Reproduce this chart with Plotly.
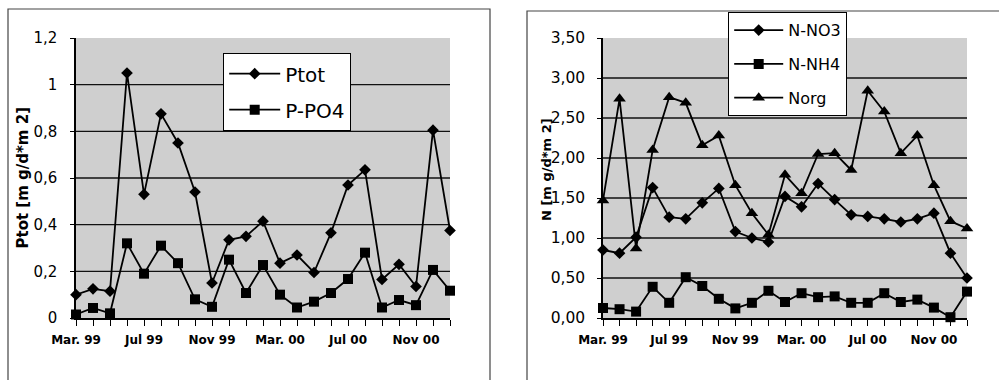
import plotly.graph_objects as go

# ---------------- data ----------------
months = ["Mar 99", "Apr 99", "May 99", "Jun 99", "Jul 99", "Aug 99", "Sep 99",
          "Oct 99", "Nov 99", "Dec 99", "Jan 00", "Feb 00", "Mar 00", "Apr 00",
          "May 00", "Jun 00", "Jul 00", "Aug 00", "Sep 00", "Oct 00", "Nov 00",
          "Dec 00", "Jan 01"]
label_months = ["Mar 99", "Jul 99", "Nov 99", "Mar 00", "Jul 00", "Nov 00"]
tick_labels = ["Mar. 99", "Jul 99", "Nov 99", "Mar. 00", "Jul 00", "Nov 00"]

ptot = [0.10, 0.125, 0.115, 1.05, 0.53, 0.875, 0.75, 0.54, 0.15, 0.335, 0.35,
        0.415, 0.235, 0.27, 0.195, 0.365, 0.57, 0.635, 0.165, 0.23, 0.135,
        0.805, 0.375]
p_po4 = [0.015, 0.043, 0.02, 0.32, 0.19, 0.31, 0.235, 0.08, 0.048, 0.25, 0.107,
         0.227, 0.10, 0.045, 0.07, 0.107, 0.167, 0.28, 0.045, 0.077, 0.055,
         0.206, 0.117]

n_no3 = [0.85, 0.81, 1.01, 1.63, 1.26, 1.24, 1.44, 1.62, 1.08, 1.00, 0.95, 1.52,
         1.39, 1.68, 1.48, 1.29, 1.27, 1.24, 1.20, 1.24, 1.31, 0.81, 0.50]
n_nh4 = [0.125, 0.11, 0.08, 0.39, 0.19, 0.51, 0.40, 0.24, 0.12, 0.19, 0.34, 0.20,
         0.31, 0.26, 0.27, 0.19, 0.19, 0.31, 0.20, 0.23, 0.13, 0.01, 0.33]
norg = [1.47, 2.74, 0.87, 2.10, 2.76, 2.69, 2.16, 2.28, 1.66, 1.31, 1.04, 1.79,
        1.56, 2.05, 2.06, 1.85, 2.84, 2.58, 2.06, 2.28, 1.66, 1.21, 1.12]

left_yticks = [0, 0.2, 0.4, 0.6, 0.8, 1.0, 1.2]
left_yticktext = ["0", "0,2", "0,4", "0,6", "0,8", "1", "1,2"]
right_yticks = [0, 0.5, 1.0, 1.5, 2.0, 2.5, 3.0, 3.5]
right_yticktext = ["0,00", "0,50", "1,00", "1,50", "2,00", "2,50", "3,00", "3,50"]

# ---------------- figure ----------------
W, H = 999, 380
FONT = "DejaVu Sans"
BG = "#cfcfcf"

xt_text = [tick_labels[label_months.index(m)] if m in label_months else "" for m in months]

fig = go.Figure()

line = dict(color="black", width=1.8)
fig.add_trace(go.Scatter(x=months, y=ptot, name="Ptot", mode="lines+markers",
                         line=line, marker=dict(symbol="diamond", size=9, color="black"),
                         xaxis="x", yaxis="y", legend="legend", legendgroup="a",
                         cliponaxis=False))
fig.add_trace(go.Scatter(x=months, y=p_po4, name="P-PO4", mode="lines+markers",
                         line=line, marker=dict(symbol="square", size=10, color="black"),
                         xaxis="x", yaxis="y", legend="legend", legendgroup="b",
                         cliponaxis=False))
fig.add_trace(go.Scatter(x=months, y=n_no3, name="N-NO3", mode="lines+markers",
                         line=line, marker=dict(symbol="diamond", size=9, color="black"),
                         xaxis="x2", yaxis="y2", legend="legend2", legendgroup="c",
                         cliponaxis=False))
fig.add_trace(go.Scatter(x=months, y=n_nh4, name="N-NH4", mode="lines+markers",
                         line=line, marker=dict(symbol="square", size=10, color="black"),
                         xaxis="x2", yaxis="y2", legend="legend2", legendgroup="d",
                         cliponaxis=False))
fig.add_trace(go.Scatter(x=months, y=norg, name="Norg", mode="lines+markers",
                         line=line, marker=dict(symbol="triangle-up", size=11, color="black"),
                         xaxis="x2", yaxis="y2", legend="legend2", legendgroup="e",
                         cliponaxis=False))

ydom = [1 - 318 / H, 1 - 38 / H]
xdom1 = [76 / W, 450 / W]
xdom2 = [603 / W, 967 / W]

xcommon = dict(type="category", range=[0, len(months) - 1], tickvals=months,
               ticktext=xt_text, ticks="outside", ticklen=6, tickwidth=1.2,
               tickcolor="black", showline=True, linecolor="black", linewidth=1.5,
               showgrid=False, zeroline=False, ticklabelstandoff=4, automargin=False,
               tickfont=dict(family=FONT, size=12, color="black", weight="bold"))
xinside = dict(type="linear", range=[0, len(months) - 1], tickvals=list(range(len(months))),
               ticks="inside", ticklen=5, tickwidth=1.2, tickcolor="black",
               showticklabels=False, showline=False, showgrid=False, zeroline=False,
               automargin=False)

fig.update_layout(
    template=None,
    width=W, height=H, margin=dict(l=0, r=0, t=0, b=0, pad=0, autoexpand=False),
    paper_bgcolor="white", plot_bgcolor=BG,
    xaxis=dict(domain=xdom1, anchor="y", **xcommon),
    xaxis2=dict(domain=xdom2, anchor="y2", **xcommon),
    xaxis3=dict(overlaying="x", anchor="y", **xinside),
    xaxis4=dict(overlaying="x2", anchor="y2", **xinside),
    yaxis=dict(domain=ydom, anchor="x", range=[0, 1.2], tickvals=left_yticks,
               ticktext=left_yticktext, ticks="outside", ticklen=4, tickcolor="black",
               showline=True, linecolor="black", linewidth=1.5, showgrid=False,
               zeroline=False, ticklabelstandoff=10, automargin=False,
               tickfont=dict(family=FONT, size=15, color="black")),
    yaxis2=dict(domain=ydom, anchor="x2", range=[0, 3.5], tickvals=right_yticks,
                ticktext=right_yticktext, ticks="outside", ticklen=4, tickcolor="black",
                showline=True, linecolor="black", linewidth=1.5, showgrid=False,
                zeroline=False, ticklabelstandoff=9, automargin=False,
                tickfont=dict(family=FONT, size=15.5, color="black")),
    legend=dict(x=223 / W, y=1 - 53 / H, xanchor="left", yanchor="top",
                bgcolor="white", bordercolor="black", borderwidth=1.2,
                font=dict(family=FONT, size=20, color="black"),
                tracegroupgap=7, itemwidth=51),
    legend2=dict(x=728 / W, y=1 - 12 / H, xanchor="left", yanchor="top",
                 bgcolor="white", bordercolor="black", borderwidth=1.2,
                 font=dict(family=FONT, size=16, color="black"),
                 tracegroupgap=10, itemwidth=49),
    showlegend=True,
)

shapes = []
# horizontal gridlines (not at the top edge)
for v in left_yticks[1:-1]:
    shapes.append(dict(type="line", xref="x domain", yref="y", x0=0, x1=1, y0=v, y1=v,
                       line=dict(color="#111", width=1.3), layer="below"))
for v in right_yticks[1:-1]:
    shapes.append(dict(type="line", xref="x2 domain", yref="y2", x0=0, x1=1, y0=v, y1=v,
                       line=dict(color="#111", width=1.3), layer="below"))
# chart-area frames
shapes.append(dict(type="rect", xref="paper", yref="paper", x0=8 / W, x1=490 / W,
                   y0=-0.05, y1=1 - 9 / H, line=dict(color="#444", width=1.2)))
shapes.append(dict(type="rect", xref="paper", yref="paper", x0=527 / W, x1=1.05,
                   y0=-0.05, y1=1 - 11 / H, line=dict(color="#444", width=1.2)))
fig.update_layout(shapes=shapes)

fig.add_annotation(text="Ptot [m g/d*m 2]", textangle=-90, xref="paper", yref="paper",
                   x=23 / W, y=1 - 177.5 / H, xanchor="center", yanchor="middle",
                   showarrow=False,
                   font=dict(family=FONT, size=15, color="black", weight="bold"))
fig.add_annotation(text="N [m g/d*m 2]", textangle=-90, xref="paper", yref="paper",
                   x=546 / W, y=1 - 170 / H, xanchor="center", yanchor="middle",
                   showarrow=False,
                   font=dict(family=FONT, size=13, color="black", weight="bold"))

fig.write_html("out.html", config={"displayModeBar": False},
               post_script="document.body.style.margin='0';document.body.style.overflow='hidden';")
